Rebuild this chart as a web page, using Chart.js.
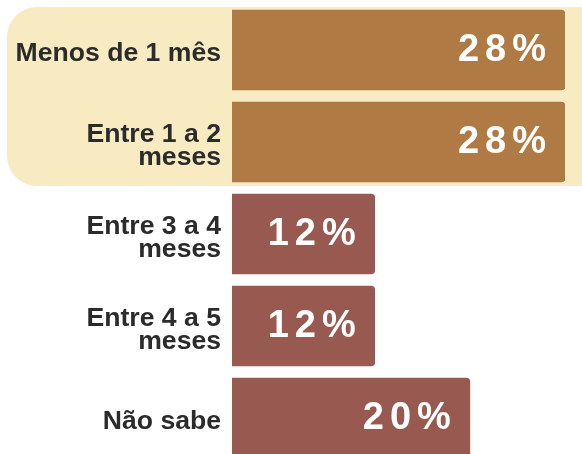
<!DOCTYPE html>
<html>
<head>
<meta charset="utf-8">
<script src="https://cdn.jsdelivr.net/npm/chart.js@4/dist/chart.umd.min.js"></script>
<style>
  html, body { margin: 0; padding: 0; background: #fff; overflow: hidden; }
  .wrap { width: 582px; height: 470px; position: relative; }
</style>
</head>
<body>
<div class="wrap"><canvas class="js-chart"></canvas></div>
<script>
const categories = [
  "Menos de 1 mês",
  ["Entre 1 a 2", "meses"],
  ["Entre 3 a 4", "meses"],
  ["Entre 4 a 5", "meses"],
  "Não sabe"
];
const values = [28, 28, 12, 12, 20];
const highlighted = [true, true, false, false, false];

const gold = "#B07A45";
const brick = "#985A50";

// yellow rounded box behind the first two rows
const highlightBox = {
  id: "highlightBox",
  beforeDraw(chart) {
    const ctx = chart.ctx;
    const y = chart.scales.y;
    const top = y.getPixelForValue(0) - 43;
    const bottom = y.getPixelForValue(1) + 44;
    ctx.save();
    ctx.fillStyle = "#F8EBC2";
    ctx.beginPath();
    ctx.roundRect(7, top, chart.width + 40, bottom - top, 30);
    ctx.fill();
    ctx.restore();
  }
};

// big white percentages inside the bars
const valueLabels = {
  id: "valueLabels",
  afterDatasetsDraw(chart) {
    const ctx = chart.ctx;
    const meta = chart.getDatasetMeta(0);
    ctx.save();
    ctx.font = "bold 38px 'Liberation Sans', Arial, sans-serif";
    ctx.fillStyle = "#fff";
    ctx.textBaseline = "middle";
    ctx.textAlign = "left";
    const sp = 6;
    ctx.letterSpacing = sp + "px";
    meta.data.forEach((bar, i) => {
      const txt = values[i] + "%";
      const w = ctx.measureText(txt).width - sp;
      ctx.fillText(txt, bar.x - 19 - w, bar.y + 1);
    });
    ctx.restore();
  }
};

const init = function () {
  const el = document.querySelector(".js-chart");
  new Chart(el, {
    type: "bar",
    data: {
      labels: categories,
      datasets: [
        {
          data: values,
          backgroundColor: highlighted.map((h) => (h ? gold : brick)),
          borderRadius: { topRight: 4, bottomRight: 4, topLeft: 0, bottomLeft: 0 },
          borderSkipped: false,
          barThickness: 80,
        }
      ],
    },
    options: {
      indexAxis: "y",
      responsive: true,
      maintainAspectRatio: false,
      animation: false,
      layout: { padding: { top: 4, bottom: 6, left: 0, right: 17 } },
      scales: {
        x: {
          display: false,
          min: 0,
          max: 28,
        },
        y: {
          grid: { display: false, drawTicks: false },
          border: { display: false },
          afterFit: (scale) => {
            scale.width = 232;
            scale.paddingTop = 0;
            scale.paddingBottom = 0;
          },
          ticks: {
            color: "#2B2B2B",
            padding: 11,
            labelOffset: 4,
            font: { family: "'Liberation Sans', Arial, sans-serif", size: 26.6, weight: "bold", lineHeight: 0.89 },
          },
        },
      },
      plugins: {
        legend: { display: false },
        tooltip: { enabled: false },
      },
    },
    plugins: [highlightBox, valueLabels],
  });
};

document.addEventListener("DOMContentLoaded", init);
</script>
</body>
</html>
